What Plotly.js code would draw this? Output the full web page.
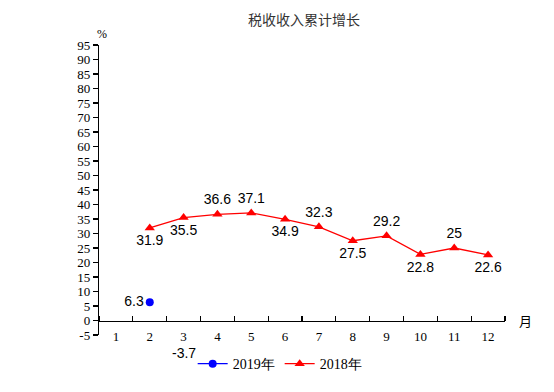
<!DOCTYPE html>
<html>
<head>
<meta charset="utf-8">
<script src="https://cdn.plot.ly/plotly-3.0.1.min.js"></script>
<style>html,body{margin:0;padding:0;background:#fff;}#chart{width:554px;height:392px;}</style>
</head>
<body>
<div id="chart"></div>
<script>
var months = [1,2,3,4,5,6,7,8,9,10,11,12];
var months2019 = [2, 3];
var values2019 = [6.3, -3.7];
var months2018 = [2,3,4,5,6,7,8,9,10,11,12];
var values2018 = [31.9, 35.5, 36.6, 37.1, 34.9, 32.3, 27.5, 29.2, 22.8, 25, 22.6];
var yTicks = [-5,0,5,10,15,20,25,30,35,40,45,50,55,60,65,70,75,80,85,90,95];
var yTickText = yTicks.map(String);
var labelPos2018 = ['bottom center','bottom center','top center','top center','bottom center','top center','bottom center','top center','bottom center','top center','bottom center'];
var boundaries = months.map(function(m){return m - 0.5;}).concat([12.5]);

var labelFont = {family: 'Liberation Sans, Arial, sans-serif', size: 14, color: '#000'};
var serif = 'Liberation Serif, Times New Roman, serif';

var traces = [
  {
    x: months2019.slice(0,1), y: values2019.slice(0,1), name: '2019年',
    mode: 'lines+markers+text', text: values2019.slice(0,1).map(String),
    textposition: 'middle left', textfont: labelFont,
    line: {color: '#0000ff', width: 1.3},
    marker: {color: '#0000ff', size: 8, symbol: 'circle'},
    cliponaxis: false, hoverinfo: 'x+y'
  },
  {
    x: months2018, y: values2018, name: '2018年',
    mode: 'lines+markers+text', text: values2018.map(String),
    textposition: labelPos2018, textfont: labelFont,
    line: {color: '#ff0000', width: 1.3},
    marker: {color: '#ff0000', size: 9, symbol: 'triangle-up'},
    cliponaxis: false, hoverinfo: 'x+y'
  }
];

var annotations = [
  {text: '%', xref: 'paper', yref: 'paper', x: 0.008, y: 1.0, xanchor: 'center', yanchor: 'bottom', yshift: 2,
   showarrow: false, font: {family: serif, size: 12, color: '#000'}},
  {text: '月', xref: 'paper', yref: 'paper', x: 1.0, y: 0.05, xanchor: 'left', yanchor: 'middle', xshift: 12,
   showarrow: false, font: {family: 'Noto Sans CJK SC, sans-serif', size: 13, color: '#000'}}
];
months2019.slice(1).forEach(function(m, i){
  var v = values2019[i + 1];
  annotations.push({text: String(v), xref: 'x', yref: 'y', x: m, y: v, xanchor: 'center', yanchor: 'top',
    yshift: -12, showarrow: false, font: labelFont});
});

var layout = {
  width: 554, height: 392,
  margin: {l: 99, r: 49, t: 45, b: 55},
  paper_bgcolor: '#fff', plot_bgcolor: '#fff',
  title: {text: '税收收入累计增长', font: {family: 'Noto Sans CJK SC, sans-serif', size: 14, color: '#333'},
          x: 0.505, xref: 'paper', xanchor: 'center', y: 0.95, yref: 'container', yanchor: 'middle'},
  showlegend: true,
  legend: {orientation: 'h', x: 0.445, xanchor: 'center', y: -0.045, yanchor: 'top',
           font: {family: serif, size: 14, color: '#000'},
           itemwidth: 30, tracegroupgap: 0},
  xaxis: {
    range: [0.5, 12.5], anchor: 'free', position: 0.05,
    tickvals: months, ticktext: months.map(String), ticks: '',
    showline: true, linecolor: '#000', linewidth: 1.2,
    showgrid: false, zeroline: false, ticklabelstandoff: 4,
    tickfont: {family: serif, size: 13, color: '#000'},
    minor: {tickvals: boundaries, ticks: 'inside', ticklen: 5, tickwidth: 1.2, tickcolor: '#000', showgrid: false},
    fixedrange: true
  },
  yaxis: {
    range: [-5, 95], tickvals: yTicks, ticktext: yTickText, ticks: 'outside', ticklen: 5, tickwidth: 1.2, tickcolor: '#000',
    showline: true, linecolor: '#000', linewidth: 1.2, showgrid: false, zeroline: false,
    tickfont: {family: serif, size: 13, color: '#000'},
    fixedrange: true
  },
  annotations: annotations
};

Plotly.newPlot('chart', traces, layout, {staticPlot: true, displayModeBar: false});
</script>
</body>
</html>
